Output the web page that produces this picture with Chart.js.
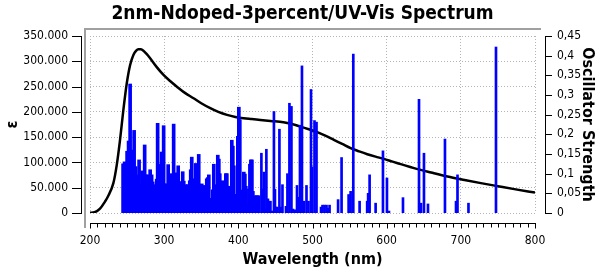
<!DOCTYPE html>
<html>
<head>
<meta charset="utf-8">
<script src="https://cdn.jsdelivr.net/npm/chart.js@4.4.1/dist/chart.umd.min.js"></script>
<style>
html, body { margin: 0; padding: 0; background: #ffffff; }
#wrap { width: 605px; height: 270px; }
</style>
</head>
<body>
<div id="wrap"><canvas id="c" width="605" height="270"></canvas></div>
<script>
// ---------- texts ----------
const chartTitle = '2nm-Ndoped-3percent/UV-Vis Spectrum';
const xTitle = 'Wavelength (nm)';
const yTitle = 'ε';
const y2Title = 'Oscillator Strength';

// ---------- ticks ----------
const xTickValues = [200, 300, 400, 500, 600, 700, 800];
const xTickLabels = ['200', '300', '400', '500', '600', '700', '800'];
const yTickValues = [0, 50000, 100000, 150000, 200000, 250000, 300000, 350000];
const yTickLabels = ['0', '50.000', '100.000', '150.000', '200.000', '250.000', '300.000', '350.000'];
const y2TickValues = [0, 0.05, 0.1, 0.15, 0.2, 0.25, 0.3, 0.35, 0.4, 0.45];
const y2TickLabels = ['0', '0,05', '0,1', '0,15', '0,2', '0,25', '0,3', '0,35', '0,4', '0,45'];

// ---------- spectrum curve (nm, epsilon) ----------
const curveWavelength = [200, 206, 213.5, 220, 224, 231.5, 236.1, 240.5, 245, 249.6, 254.1, 258.5, 262, 265.3, 268.5, 272, 276, 281.1, 290, 299.1, 308, 317.2, 328, 339.6, 350, 362.2, 373, 384.7, 396, 407.2, 418, 429.7, 443.3, 460.8, 472, 483.8, 495, 506.4, 518, 528.8, 540, 551.4, 563, 573.9, 585, 596.4, 608, 619, 636.9, 660, 682.1, 705, 727, 750, 772.1, 800];
const curveEpsilon = [600, 1500, 8500, 22000, 32000, 59000, 95200, 144600, 203800, 256600, 292700, 312500, 320500, 324000, 323800, 320900, 315000, 305900, 288500, 273000, 261000, 249800, 237500, 226900, 217000, 207200, 200000, 194000, 190000, 187400, 185800, 184100, 182100, 179500, 176000, 170800, 165500, 159800, 152500, 144600, 136500, 128200, 121800, 116300, 111500, 107000, 101500, 96600, 88700, 80000, 72100, 65300, 59100, 53000, 47200, 40500];

// ---------- transitions, dense UV part (nm, oscillator strength) ----------
const denseWavelength = [
  244.6, 246.6, 248.0, 250.0, 252.0, 254.1, 256.1, 257.4, 259.5, 261.5,
  262.8, 264.2, 266.2, 268.2, 270.3, 272.3, 273.7, 275.0, 277.0, 279.1,
  281.1, 283.1, 284.5, 285.8, 287.8, 289.9, 291.2, 292.6, 293.9, 295.3,
  296.6, 298.0, 299.3, 300.7, 302.0, 303.4, 305.4, 307.4, 309.5, 311.5,
  312.8, 314.2, 315.5, 316.9, 318.9, 320.9, 322.3, 323.7, 325.0, 326.4,
  327.7, 329.1, 330.4, 331.8, 333.1, 334.5, 335.8, 337.2, 338.5, 339.9,
  341.2, 342.6, 343.9, 345.3, 346.6, 348.0, 349.3, 350.7, 352.0, 353.4,
  354.7, 356.1, 357.4, 358.8, 360.2, 361.5, 363.5, 365.5, 366.9, 368.2,
  369.6, 371.0, 372.3, 373.7, 375.0, 376.4, 377.7, 379.1, 380.4, 381.8,
  383.1, 384.5, 385.8, 387.2, 388.5, 389.9, 391.2, 392.6, 393.9, 395.3,
  396.6, 398.0, 399.3, 400.7, 402.0, 403.4, 404.7, 406.1, 407.4, 408.8,
  410.1, 411.5, 412.9, 414.2, 415.6, 416.9, 418.3, 419.6, 421.0, 422.3,
  423.7, 425.0, 427.0
];
const denseStrength = [
  0.125, 0.130, 0.095, 0.157, 0.183, 0.328, 0.160, 0.137, 0.210, 0.118,
  0.097, 0.076, 0.135, 0.072, 0.107, 0.062, 0.173, 0.097, 0.097, 0.096,
  0.110, 0.097, 0.079, 0.040, 0.072, 0.086, 0.228, 0.088, 0.115, 0.124,
  0.155, 0.088, 0.222, 0.074, 0.027, 0.074, 0.123, 0.047, 0.100, 0.059,
  0.226, 0.097, 0.068, 0.102, 0.120, 0.058, 0.043, 0.080, 0.105, 0.081,
  0.055, 0.072, 0.052, 0.072, 0.050, 0.082, 0.110, 0.142, 0.075, 0.087,
  0.052, 0.126, 0.075, 0.065, 0.149, 0.073, 0.059, 0.074, 0.070, 0.055,
  0.055, 0.070, 0.087, 0.090, 0.097, 0.037, 0.037, 0.059, 0.124, 0.072,
  0.024, 0.068, 0.147, 0.137, 0.100, 0.054, 0.065, 0.082, 0.066, 0.059,
  0.100, 0.100, 0.042, 0.068, 0.020, 0.021, 0.185, 0.170, 0.120, 0.047,
  0.047, 0.047, 0.195, 0.269, 0.237, 0.058, 0.058, 0.057, 0.104, 0.099,
  0.068, 0.022, 0.018, 0.061, 0.124, 0.135, 0.135, 0.055, 0.026, 0.044,
  0.026, 0.044, 0.044
];

// ---------- transitions, visible part (nm, oscillator strength) ----------
const sparseWavelength = [
  431.1, 433.1, 434.5, 435.8, 437.8, 439.9, 441.2, 443.3, 445.3, 448.0,
  449.4, 450.7, 452.7, 455.4, 457.4, 459.5, 464.2, 466.2, 468.9, 471.6,
  473.7, 476.4, 479.1, 480.4, 483.1, 485.8, 488.5, 491.9, 494.6, 498.0,
  499.4, 502.7, 505.4, 511.5, 513.5, 516.2, 518.9, 521.0, 523.0, 534.5,
  539.2, 548.7, 551.4, 555.0, 563.5, 573.7, 575.0, 577.0, 585.1, 595.0,
  600.4, 603.1, 622.0, 643.6, 646.3, 650.3, 655.7, 678.6, 693.5, 695.5,
  710.3, 747.4
];
const sparseStrength = [
  0.152, 0.061, 0.104, 0.010, 0.162, 0.036, 0.030, 0.030, 0.005, 0.258,
  0.060, 0.015, 0.015, 0.213, 0.015, 0.072, 0.017, 0.100, 0.279, 0.271,
  0.010, 0.008, 0.070, 0.040, 0.223, 0.374, 0.030, 0.070, 0.030, 0.314,
  0.117, 0.235, 0.231, 0.015, 0.020, 0.020, 0.020, 0.012, 0.020, 0.034,
  0.141, 0.047, 0.055, 0.404, 0.030, 0.030, 0.050, 0.097, 0.025, 0.158,
  0.089, 0.005, 0.039, 0.289, 0.025, 0.152, 0.023, 0.188, 0.030, 0.097,
  0.025, 0.422
];

// ---------- styling ----------
const FONT = "'DejaVu Sans Condensed', 'DejaVu Sans', sans-serif";
const GRID_COLOR = '#b4b4b4';
const FRAME_COLOR = '#a0a0a0';
const BAR_COLOR = '#0000ff';
const X_MINOR_STEP = 10;

const frameAndAxes = {
  id: 'frameAndAxes',
  beforeDraw(chart) {
    const { ctx, chartArea: a } = chart;
    ctx.save();
    ctx.fillStyle = '#ffffff';
    ctx.fillRect(0, 0, chart.width, chart.height);
    ctx.fillStyle = FRAME_COLOR;
    ctx.fillRect(Math.round(a.left) - 6, Math.round(a.top) - 8, Math.round(a.right - a.left) + 12, 2);
    ctx.fillRect(Math.round(a.left) - 6, Math.round(a.top) - 8, 2, Math.round(a.bottom - a.top) + 23);
    ctx.restore();
  },
  afterDraw(chart) {
    const { ctx, chartArea: a, scales } = chart;
    const xs = scales.x, ys = scales.y, y2s = scales.y2;
    ctx.save();
    ctx.strokeStyle = '#000000';
    ctx.lineWidth = 1;
    ctx.beginPath();
    // left axis
    const lx = Math.round(a.left) - 9 + 0.5;
    ctx.moveTo(lx, Math.round(ys.getPixelForValue(ys.max)));
    ctx.lineTo(lx, Math.round(ys.getPixelForValue(ys.min)) + 1);
    ys.ticks.forEach(t => {
      const p = Math.round(ys.getPixelForValue(t.value)) + 0.5;
      ctx.moveTo(lx - 9.5, p); ctx.lineTo(lx, p);
    });
    // right axis
    const rx = Math.round(a.right) + 10 + 0.5;
    ctx.moveTo(rx, Math.round(y2s.getPixelForValue(y2s.max)));
    ctx.lineTo(rx, Math.round(y2s.getPixelForValue(y2s.min)) + 1);
    y2s.ticks.forEach(t => {
      const p = Math.round(y2s.getPixelForValue(t.value)) + 0.5;
      ctx.moveTo(rx, p); ctx.lineTo(rx + 6.5, p);
    });
    // bottom axis
    const by = Math.round(a.bottom) + 10 + 0.5;
    ctx.moveTo(Math.round(xs.getPixelForValue(xs.min)), by);
    ctx.lineTo(Math.round(xs.getPixelForValue(xs.max)) + 1, by);
    for (let v = xs.min; v <= xs.max + 0.001; v += X_MINOR_STEP) {
      const p = Math.round(xs.getPixelForValue(v)) + 0.5;
      const len = (Math.round(v) % 100 === 0) ? 5 : 4;
      ctx.moveTo(p, by); ctx.lineTo(p, by + len);
    }
    ctx.stroke();
    ctx.restore();
  }
};

const tickFont = { family: FONT, size: 12 };
const titleFont = { family: FONT, size: 16, weight: 'bold', lineHeight: 1.2 };

new Chart(document.getElementById('c'), {
  type: 'bar',
  data: {
    datasets: [
      {
        type: 'bar',
        label: 'Oscillator Strength (UV)',
        data: denseWavelength.map((w, i) => ({ x: w, y: denseStrength[i] })),
        xAxisID: 'x',
        yAxisID: 'y2',
        backgroundColor: BAR_COLOR,
        borderWidth: 0,
        barThickness: 3,
        grouped: false,
        order: 0
      },
      {
        type: 'bar',
        label: 'Oscillator Strength (Vis)',
        data: sparseWavelength.map((w, i) => ({ x: w, y: sparseStrength[i] })),
        xAxisID: 'x',
        yAxisID: 'y2',
        backgroundColor: BAR_COLOR,
        borderWidth: 0,
        barThickness: 2,
        grouped: false,
        order: 0
      },
      {
        type: 'line',
        label: 'Spectrum',
        data: curveWavelength.map((w, i) => ({ x: w, y: curveEpsilon[i] })),
        xAxisID: 'x',
        yAxisID: 'y',
        borderColor: '#000000',
        borderWidth: 2.5,
        pointRadius: 0,
        fill: false,
        cubicInterpolationMode: 'monotone',
        order: 1
      }
    ]
  },
  options: {
    responsive: false,
    devicePixelRatio: 1,
    animation: false,
    events: [],
    layout: { padding: 0 },
    plugins: {
      legend: { display: false },
      tooltip: { enabled: false },
      title: {
        display: true,
        text: chartTitle,
        color: '#000000',
        font: { family: FONT, size: 19, weight: 'bold', lineHeight: 1.2 },
        padding: { top: 3, bottom: 10.2 }
      }
    },
    scales: {
      x: {
        type: 'linear',
        position: 'bottom',
        min: 200,
        max: 800,
        offset: false,
        afterBuildTicks: s => { s.ticks = xTickValues.map(v => ({ value: v })); },
        afterFit: s => { s.height = 57; },
        ticks: {
          padding: 21, maxRotation: 0, autoSkip: false, color: '#000000', font: tickFont,
          callback: v => xTickLabels[xTickValues.indexOf(v)]
        },
        grid: { color: GRID_COLOR, lineWidth: 1, drawTicks: false, offset: false },
        border: { display: false, dash: [1, 2] },
        title: { display: true, text: xTitle, color: '#000000', font: titleFont, padding: { top: 0, bottom: 1 } }
      },
      y: {
        type: 'linear',
        position: 'left',
        min: 0,
        max: 350000,
        afterBuildTicks: s => { s.ticks = yTickValues.map(v => ({ value: v })); },
        afterFit: s => { s.width = 90; },
        ticks: {
          padding: 22, color: '#000000', font: tickFont,
          callback: v => yTickLabels[yTickValues.indexOf(v)]
        },
        grid: { color: GRID_COLOR, lineWidth: 1, drawTicks: false },
        border: { display: false, dash: [1, 2] },
        title: { display: true, text: yTitle, color: '#000000', font: titleFont, padding: { top: 3, bottom: 0 } }
      },
      y2: {
        type: 'linear',
        position: 'right',
        min: 0,
        max: 0.45,
        afterBuildTicks: s => { s.ticks = y2TickValues.map(v => ({ value: v })); },
        afterFit: s => { s.width = 70; },
        ticks: {
          padding: 22, color: '#000000', font: tickFont,
          callback: v => y2TickLabels[y2TickValues.indexOf(v)]
        },
        grid: { display: false, drawTicks: false, drawOnChartArea: false },
        border: { display: false },
        title: { display: true, text: y2Title, color: '#000000', font: titleFont, padding: { top: 8, bottom: 0 } }
      }
    }
  },
  plugins: [frameAndAxes]
});
</script>
</body>
</html>
